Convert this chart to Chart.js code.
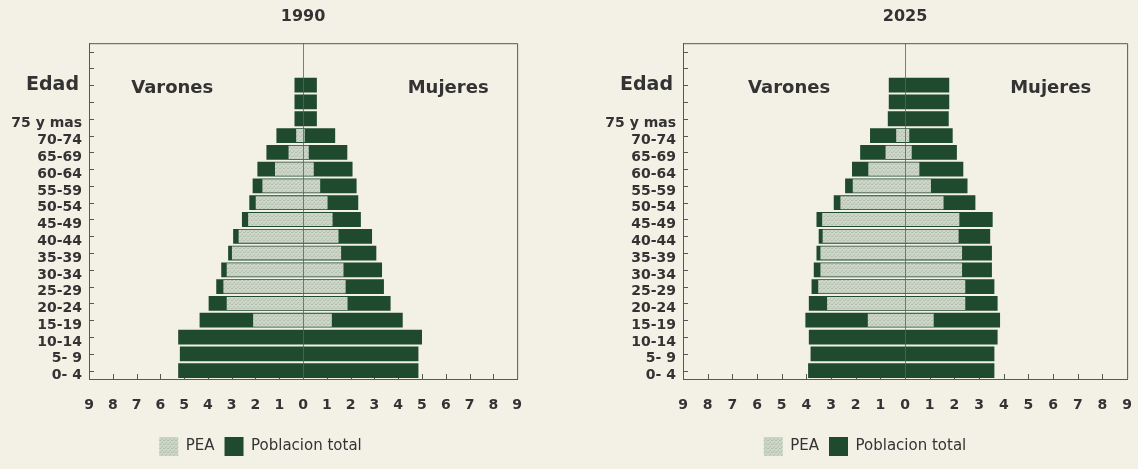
<!DOCTYPE html>
<html>
<head>
<meta charset="utf-8">
<script src="https://cdn.jsdelivr.net/npm/chart.js@4.4.0/dist/chart.umd.min.js"></script>
<style>
  html, body { margin: 0; padding: 0; background: #f3f0e6; overflow: hidden; }
  canvas { position: absolute; top: 0; }
  #c1990 { left: 0; }
  #c2025 { left: 580px; }
</style>
</head>
<body>
<canvas id="c1990" width="540" height="469"></canvas>
<canvas id="c2025" width="570" height="469"></canvas>
<script>
// age groups, bottom to top (two empty rows at the top of the frame)
const ages = ["0- 4", "5- 9", "10-14", "15-19", "20-24", "25-29", "30-34", "35-39", "40-44",
  "45-49", "50-54", "55-59", "60-64", "65-69", "70-74", "75 y mas", "", "", "", ""];

// 1990, % of population
const men1990Total = [5.25, 5.18, 5.25, 4.35, 3.97, 3.65, 3.44, 3.15, 2.94, 2.57, 2.26, 2.12, 1.92, 1.54, 1.12, 0.36, 0.36, 0.36];
const women1990Total = [4.85, 4.85, 5.0, 4.19, 3.68, 3.4, 3.32, 3.08, 2.9, 2.43, 2.32, 2.25, 2.08, 1.86, 1.35, 0.58, 0.58, 0.58];
const men1990PEA = [null, null, null, 2.1, 3.21, 3.35, 3.21, 2.99, 2.71, 2.31, 1.99, 1.71, 1.18, 0.61, 0.29, null, null, null];
const women1990PEA = [null, null, null, 1.21, 1.87, 1.79, 1.7, 1.6, 1.49, 1.24, 1.03, 0.72, 0.45, 0.24, 0.07, null, null, null];

// 2025
const men2025Total = [3.93, 3.83, 3.9, 4.04, 3.9, 3.79, 3.7, 3.59, 3.5, 3.59, 2.89, 2.43, 2.15, 1.82, 1.42, 0.7, 0.66, 0.66];
const women2025Total = [3.62, 3.62, 3.75, 3.85, 3.75, 3.62, 3.52, 3.52, 3.45, 3.55, 2.85, 2.53, 2.36, 2.1, 1.93, 1.77, 1.79, 1.79];
const men2025PEA = [null, null, null, 1.51, 3.16, 3.52, 3.43, 3.43, 3.34, 3.36, 2.62, 2.12, 1.49, 0.79, 0.36, null, null, null];
const women2025PEA = [null, null, null, 1.16, 2.44, 2.44, 2.31, 2.31, 2.17, 2.2, 1.56, 1.05, 0.58, 0.27, 0.17, null, null, null];

const DARK = "#1f4a2d";
const INK = "#333333";
const LINE = "#4f5c4f";

function stipple() {
  const c = document.createElement("canvas");
  c.width = 4; c.height = 4;
  const g = c.getContext("2d");
  g.fillStyle = "#ccd5c8";
  g.fillRect(0, 0, 4, 4);
  g.fillStyle = "#b4c0b0";
  g.fillRect(0, 0, 1, 1);
  g.fillRect(2, 2, 1, 1);
  g.fillRect(3, 0, 1, 1);
  g.fillRect(1, 3, 1, 1);
  return g.createPattern(c, "repeat");
}

// inward ticks, frame, centre line and the loose labels
const framePlugin = {
  id: "frame",
  beforeDatasetsDraw(chart) {
    const { ctx, chartArea: a, scales: { x, y } } = chart;
    ctx.save();
    ctx.strokeStyle = LINE;
    ctx.lineWidth = 1;
    ctx.beginPath();
    for (let v = -8; v <= 8; v++) {
      const px = Math.round(x.getPixelForValue(v)) + 0.5;
      ctx.moveTo(px, a.bottom);
      ctx.lineTo(px, a.bottom - 5);
    }
    for (let i = 0; i < ages.length; i++) {
      const py = Math.round(y.getPixelForValue(i)) + 0.5;
      ctx.moveTo(a.left, py);
      ctx.lineTo(a.left + 5, py);
    }
    ctx.stroke();
    ctx.restore();
  },
  afterDatasetsDraw(chart, args, opts) {
    const { ctx, chartArea: a, scales: { x, y } } = chart;
    ctx.save();
    ctx.strokeStyle = LINE;
    ctx.lineWidth = 1;
    ctx.beginPath();
    ctx.moveTo(a.left, a.top + 0.5);
    ctx.lineTo(a.right + 0.5, a.top + 0.5);
    ctx.lineTo(a.right + 0.5, a.bottom);
    ctx.stroke();

    ctx.strokeStyle = "rgba(90,100,90,0.8)";
    const cx = Math.round(x.getPixelForValue(0)) + 0.5;
    ctx.beginPath();
    ctx.moveTo(cx, a.top);
    ctx.lineTo(cx, a.bottom);
    ctx.stroke();

    ctx.fillStyle = INK;
    ctx.font = "bold 18px 'DejaVu Sans'";
    ctx.textBaseline = "middle";
    ctx.textAlign = "center";
    ctx.fillText("Varones", x.getPixelForValue(opts.varones), y.getPixelForValue(17) + 3);
    ctx.fillText("Mujeres", x.getPixelForValue(opts.mujeres), y.getPixelForValue(17) + 3);
    ctx.textAlign = "right";
    ctx.font = "bold 19px 'DejaVu Sans'";
    ctx.fillText("Edad", a.left - 10, y.getPixelForValue(17));
    ctx.restore();
  }
};

function pyramid(id, year, menTot, womenTot, menPea, womenPea, axisWidth, padRight, varones, mujeres) {
  const total = menTot.map((m, i) => [-m, womenTot[i]]);
  const pea = menPea.map((m, i) => (m == null ? null : [-m, womenPea[i]]));
  return new Chart(document.getElementById(id), {
    type: "bar",
    data: {
      labels: ages,
      datasets: [
        {
          label: "PEA",
          data: pea,
          backgroundColor: stipple(),
          borderWidth: 0,
          grouped: false,
          barPercentage: 0.78,
          categoryPercentage: 1,
          order: 1,
        },
        {
          label: "Poblacion total",
          data: total,
          backgroundColor: DARK,
          borderWidth: 0,
          grouped: false,
          barPercentage: 0.88,
          categoryPercentage: 1,
          order: 2,
        },
      ],
    },
    options: {
      indexAxis: "y",
      responsive: false,
      animation: false,
      devicePixelRatio: 1,
      layout: { padding: { left: 0, right: padRight, top: 0, bottom: 3 } },
      scales: {
        x: {
          min: -9,
          max: 9,
          grid: { display: false, drawTicks: false },
          border: { display: true, color: LINE },
          ticks: {
            stepSize: 1,
            padding: 18,
            color: INK,
            font: { family: "DejaVu Sans", size: 14, weight: "bold" },
            callback: (v) => Math.abs(v),
          },
          afterFit: (s) => { s.height = 48; },
        },
        y: {
          reverse: true,
          grid: { display: false, drawTicks: false },
          border: { display: true, color: LINE },
          ticks: {
            autoSkip: false,
            padding: 7,
            labelOffset: 5,
            color: INK,
            font: { family: "DejaVu Sans", size: 14, weight: "bold" },
          },
          afterFit: (s) => { s.width = axisWidth; },
        },
      },
      plugins: {
        tooltip: { enabled: false },
        title: {
          display: true,
          text: year,
          fullSize: false,
          color: INK,
          font: { family: "DejaVu Sans", size: 16, weight: "bold" },
          padding: { top: 7, bottom: 17 },
        },
        legend: {
          position: "bottom",
          labels: {
            boxWidth: 19,
            boxHeight: 19,
            padding: 10,
            color: INK,
            font: { family: "DejaVu Sans", size: 15 },
          },
        },
        frame: { varones, mujeres },
      },
    },
    plugins: [framePlugin],
  });
}

pyramid("c1990", "1990", men1990Total, women1990Total, men1990PEA, women1990PEA, 89, 19, -5.5, 6.1);
pyramid("c2025", "2025", men2025Total, women2025Total, men2025PEA, women2025PEA, 103, 0, -4.7, 5.9);
</script>
</body>
</html>
